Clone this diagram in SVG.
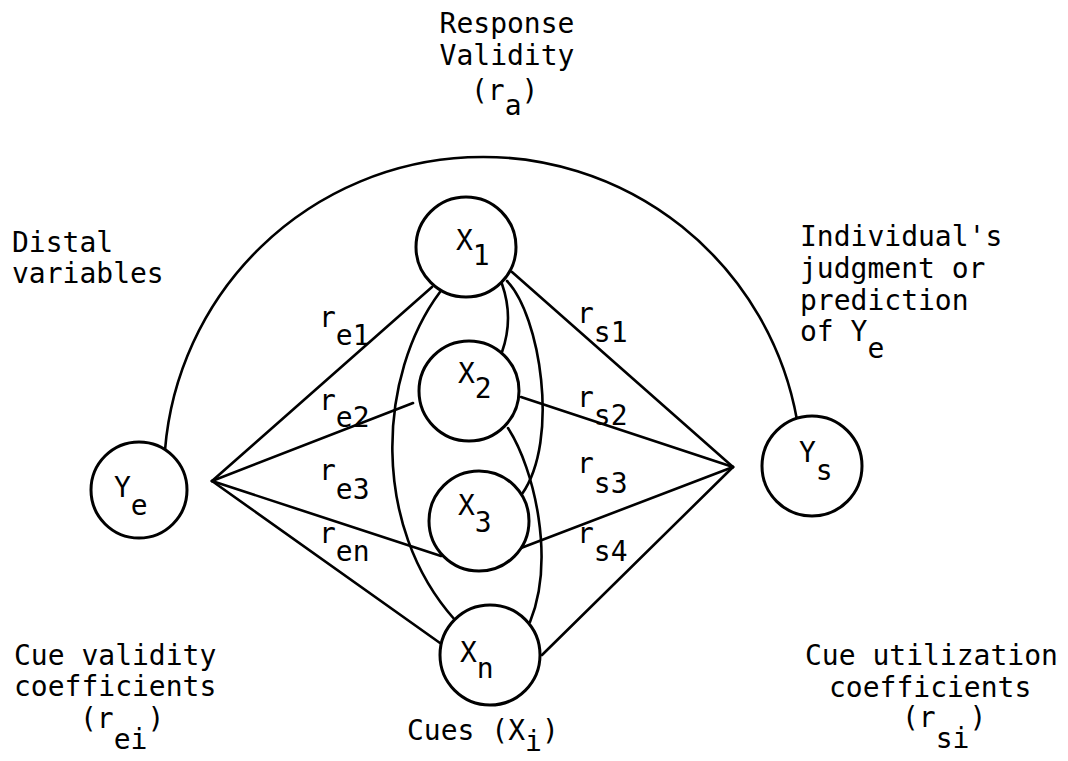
<svg xmlns="http://www.w3.org/2000/svg" width="1068" height="761" viewBox="0 0 1068 761">
<style>
.n{fill:#fff;stroke:#000;stroke-width:3}
.c{fill:none;stroke:#000;stroke-width:2.6;stroke-linecap:round}
text{font-family:"DejaVu Sans Mono","Liberation Mono",monospace;font-size:28px;fill:#000}
</style>
<rect width="1068" height="761" fill="#fff"/>
<g id="connectors">
<path id="response-arc" class="c" d="M165,450 A319,319 0 0 1 797,420"/>
<line class="c" x1="212" y1="481" x2="432" y2="287"/>
<line class="c" x1="212" y1="481" x2="413" y2="403"/>
<line class="c" x1="212" y1="481" x2="441" y2="556"/>
<line class="c" x1="212" y1="481" x2="440" y2="643"/>
<line class="c" x1="733" y1="467" x2="512" y2="272"/>
<line class="c" x1="733" y1="467" x2="521" y2="397"/>
<line class="c" x1="733" y1="467" x2="521" y2="548"/>
<line class="c" x1="733" y1="467" x2="542" y2="655"/>
<path class="c" d="M440,292 C378,375 370,525 455,620"/>
<path class="c" d="M502,284 Q514,318 502,352"/>
<path class="c" d="M507,281 C540,315 560,440 522,494"/>
<path class="c" d="M508,428 C535,470 555,560 530,622"/>
</g>
<g id="coefficient-labels">
<text x="319" y="327">r<tspan dy="18">e1</tspan></text>
<text x="319" y="410">r<tspan dy="17">e2</tspan></text>
<text x="319" y="480">r<tspan dy="19">e3</tspan></text>
<text x="319" y="543">r<tspan dy="18">en</tspan></text>
<text x="577" y="323">r<tspan dy="19">s1</tspan></text>
<text x="577" y="407">r<tspan dy="18">s2</tspan></text>
<text x="577" y="473">r<tspan dy="20">s3</tspan></text>
<text x="577" y="543">r<tspan dy="18">s4</tspan></text>
</g>
<g id="X1"><circle class="n" cx="466" cy="247" r="50"/><text x="456" y="250">X<tspan dy="15">1</tspan></text></g>
<g id="X2"><circle class="n" cx="469" cy="391" r="50"/><text x="458" y="383">X<tspan dy="15">2</tspan></text></g>
<g id="X3"><circle class="n" cx="479" cy="521" r="50"/><text x="458" y="515">X<tspan dy="17">3</tspan></text></g>
<g id="Xn"><circle class="n" cx="490" cy="655" r="50"/><text x="460" y="662">X<tspan dy="16">n</tspan></text></g>
<g id="Ye"><circle class="n" cx="139" cy="490" r="48"/><text x="114" y="497">Y<tspan dy="18">e</tspan></text></g>
<g id="Ys"><circle class="n" cx="812" cy="466" r="50"/><text x="799" y="462">Y<tspan dy="18">s</tspan></text></g>
<g id="annotations">
<text x="507" y="33" text-anchor="middle">Response</text>
<text x="507" y="65" text-anchor="middle">Validity</text>
<text x="471" y="100">(r<tspan dy="15">a</tspan><tspan dy="-15">)</tspan></text>
<text x="12" y="252">Distal</text>
<text x="12" y="283">variables</text>
<text x="800" y="246">Individual's</text>
<text x="800" y="278">judgment or</text>
<text x="800" y="310">prediction</text>
<text x="800" y="341">of Y<tspan dy="17">e</tspan></text>
<text x="14" y="665">Cue validity</text>
<text x="14" y="696">coefficients</text>
<text x="80" y="728">(r<tspan dy="21">ei</tspan><tspan dy="-21">)</tspan></text>
<text x="805" y="665">Cue utilization</text>
<text x="829" y="697">coefficients</text>
<text x="902" y="727">(r<tspan dy="21">si</tspan><tspan dy="-21">)</tspan></text>
<text x="407" y="740">Cues (X<tspan dy="11">i</tspan><tspan dy="-11">)</tspan></text>
</g>
</svg>
